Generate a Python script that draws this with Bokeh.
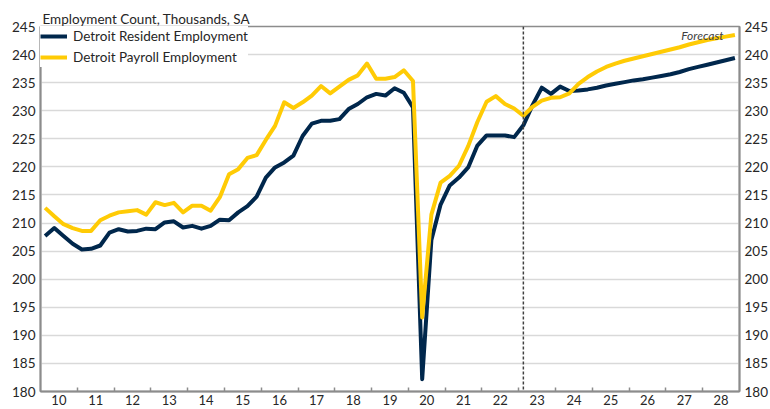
from bokeh.plotting import figure
from bokeh.models import FixedTicker, LinearAxis, Span, Label, Legend, LegendItem, Range1d
from bokeh.embed import file_html
from bokeh.resources import INLINE

# ---- data (quarterly, 2010Q1 .. 2028Q4), thousands, SA ----
year_labels = ["10", "11", "12", "13", "14", "15", "16", "17", "18", "19",
               "20", "21", "22", "23", "24", "25", "26", "27", "28"]
quarters_per_year = 4
forecast_start = "23Q1"

resident = [207.7, 209.1, 207.7, 206.3, 205.3, 205.4, 206.0, 208.3,
            208.9, 208.5, 208.6, 209.0, 208.9, 210.1, 210.3, 209.2,
            209.5, 209.0, 209.5, 210.6, 210.5, 211.9, 213.0, 214.7,
            218.1, 219.9, 220.8, 222.0, 225.5, 227.7, 228.2, 228.2,
            228.5, 230.3, 231.2, 232.4, 233.0, 232.7, 234.0, 233.2,
            230.6, 182.2, 207.0, 213.3, 216.7, 218.1, 219.9, 223.8,
            225.6, 225.6, 225.6, 225.3, 227.4, 231.0, 234.1, 233.0,
            234.3, 233.5, 233.6, 233.8, 234.1, 234.5, 234.8, 235.1,
            235.4, 235.6, 235.9, 236.2, 236.5, 236.9, 237.4, 237.8,
            238.2, 238.6, 239.0, 239.4]

payroll = [212.7, 211.2, 209.8, 209.1, 208.6, 208.6, 210.5, 211.3,
           211.9, 212.1, 212.3, 211.5, 213.7, 213.2, 213.6, 211.9,
           213.1, 213.1, 212.2, 214.6, 218.7, 219.6, 221.6, 222.1,
           224.8, 227.3, 231.5, 230.5, 231.5, 232.7, 234.4, 233.1,
           234.3, 235.5, 236.3, 238.4, 235.7, 235.7, 236.0, 237.2,
           235.3, 193.2, 211.5, 217.2, 218.4, 220.2, 223.7, 228.0,
           231.6, 232.6, 231.2, 230.4, 229.1, 230.7, 231.8, 232.3,
           232.4, 233.1, 234.8, 236.0, 237.0, 237.8, 238.4, 238.9,
           239.3, 239.7, 240.1, 240.5, 240.9, 241.3, 241.8, 242.2,
           242.6, 242.9, 243.2, 243.5]

y_ticks = [180, 185, 190, 195, 200, 205, 210, 215, 220, 225, 230, 235, 240, 245]

# ---- derived positions ----
quarter_names = [f"{y}Q{q}" for y in year_labels for q in range(1, quarters_per_year + 1)]
n = len(resident)
xs = [i + 0.5 for i in range(n)]
forecast_x = quarter_names.index(forecast_start) + 0.5

FONT = "Lato"
AXIS_COLOR = "#8c8c8c"
TEXT_COLOR = "#262626"

p = figure(width=770, height=409,
           x_range=Range1d(0, n), y_range=Range1d(180, 245),
           output_backend="svg", toolbar_location=None,
           min_border_left=40, min_border_right=29, min_border_top=26, min_border_bottom=18)

p.title.text = "Employment Count, Thousands, SA"
p.title.text_font = FONT
p.title.text_font_size = "13.5px"
p.title.text_font_style = "normal"
p.title.text_color = TEXT_COLOR
p.title.align = "left"
p.title.offset = 2
p.title.standoff = 0

p.outline_line_color = AXIS_COLOR
p.outline_line_width = 1.5

# grid
p.xgrid.visible = False
p.ygrid.ticker = FixedTicker(ticks=y_ticks)
p.ygrid.grid_line_color = "#d9d9d9"
p.ygrid.grid_line_width = 1.5

# x axis
xa = p.xaxis[0]
xa.ticker = FixedTicker(ticks=[k * quarters_per_year + 2 for k in range(len(year_labels))],
                        minor_ticks=[k * quarters_per_year for k in range(1, len(year_labels))])
xa.major_label_overrides = {k * quarters_per_year + 2: lab for k, lab in enumerate(year_labels)}
xa.major_tick_line_color = None
xa.major_tick_in = 0
xa.major_tick_out = 0
xa.minor_tick_in = 4
xa.minor_tick_out = 0
xa.minor_tick_line_color = AXIS_COLOR
xa.minor_tick_line_width = 1.5
xa.axis_line_color = AXIS_COLOR
xa.axis_line_width = 2
xa.major_label_text_font = FONT
xa.major_label_text_font_size = "13px"
xa.major_label_text_color = TEXT_COLOR
xa.major_label_standoff = 3

def style_y(ax):
    ax.ticker = FixedTicker(ticks=y_ticks)
    ax.major_tick_line_color = None
    ax.major_tick_in = 0
    ax.major_tick_out = 0
    ax.minor_tick_line_color = None
    ax.minor_tick_in = 0
    ax.minor_tick_out = 0
    ax.axis_line_color = AXIS_COLOR
    ax.axis_line_width = 2
    ax.major_label_text_font = FONT
    ax.major_label_text_font_size = "13.5px"
    ax.major_label_text_color = TEXT_COLOR
    ax.major_label_standoff = 5

style_y(p.yaxis[0])
right_axis = LinearAxis()
style_y(right_axis)
p.add_layout(right_axis, "right")

# forecast divider
p.add_layout(Span(location=forecast_x, dimension="height", line_color="#404040",
                  line_width=1.5, line_dash="3 2"))

r_res = p.line(xs, resident, line_color="#00274C", line_width=4, line_join="round")
r_pay = p.line(xs, payroll, line_color="#FFCB05", line_width=4, line_join="round")

p.add_layout(Label(x=n, y=245, x_offset=-16, y_offset=-9, text="Forecast",
                   text_align="right", text_baseline="middle", text_font=FONT,
                   text_font_style="italic", text_font_size="12px", text_color="#404040"))

legend = Legend(items=[LegendItem(label="Detroit Resident Employment", renderers=[r_res]),
                       LegendItem(label="Detroit Payroll Employment", renderers=[r_pay])],
                location="top_left")
legend.border_line_color = None
legend.background_fill_color = "white"
legend.background_fill_alpha = 1
legend.label_text_font = FONT
legend.label_text_font_size = "13.5px"
legend.label_text_color = TEXT_COLOR
legend.glyph_width = 27
legend.glyph_height = 20
legend.label_height = 20
legend.spacing = 1
legend.margin = 0
legend.padding = 2
legend.label_standoff = 6
p.add_layout(legend)

open("out.html", "w").write(file_html(p, INLINE))
